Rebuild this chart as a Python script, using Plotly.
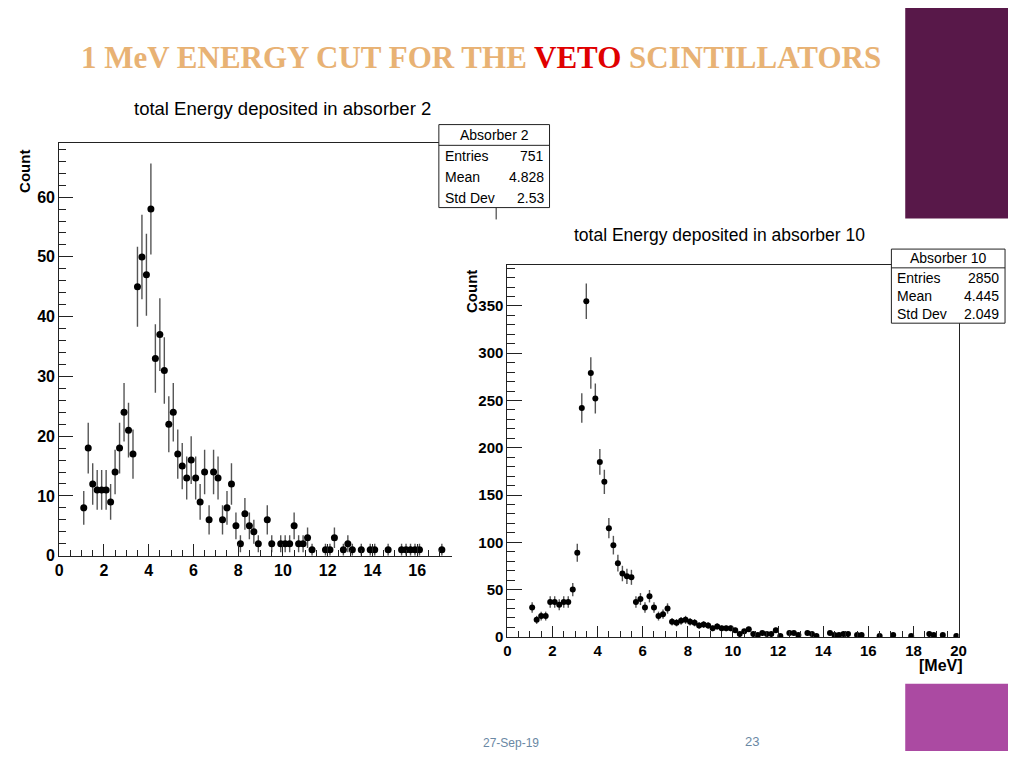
import numpy as np
import plotly.graph_objects as go

# the page keeps the browser's 8px body margin on every side
OFF = 8
W, H = 1024 - 2 * OFF, 768 - 2 * OFF

# absorber 2: bin centres [MeV] and counts
e2 = [1.1, 1.3, 1.5, 1.7, 1.9, 2.1, 2.3, 2.5, 2.7, 2.9, 3.1, 3.3, 3.5, 3.7, 3.9,
      4.1, 4.3, 4.5, 4.7, 4.9, 5.1, 5.3, 5.5, 5.7, 5.9, 6.1, 6.3, 6.5, 6.7, 6.9,
      7.1, 7.3, 7.5, 7.7, 7.9, 8.1, 8.3, 8.5, 8.7, 8.9, 9.3, 9.5, 9.9, 10.1, 10.3,
      10.5, 10.7, 10.9, 11.1, 11.3, 11.9, 12.1, 12.3, 12.7, 12.9, 13.1, 13.5, 13.9,
      14.1, 14.7, 15.3, 15.5, 15.7, 15.9, 16.1, 17.1]
n2 = [8, 18, 12, 11, 11, 11, 9, 14, 18, 24, 21, 17, 45, 50, 47,
      58, 33, 37, 31, 22, 24, 17, 15, 13, 16, 13, 9, 14, 6, 14,
      13, 6, 8, 12, 5, 2, 7, 5, 4, 2, 6, 2, 2, 2, 2,
      5, 2, 2, 3, 1, 1, 1, 3, 1, 2, 1, 1, 1,
      1, 1, 1, 1, 1, 1, 1, 1]

# absorber 10
e10 = [1.1, 1.3, 1.5, 1.7, 1.9, 2.1, 2.3, 2.5, 2.7, 2.9, 3.1, 3.3, 3.5, 3.7, 3.9,
       4.1, 4.3, 4.5, 4.7, 4.9, 5.1, 5.3, 5.5, 5.7, 5.9, 6.1, 6.3, 6.5, 6.7, 6.9,
       7.1, 7.3, 7.5, 7.7, 7.9, 8.1, 8.3, 8.5, 8.7, 8.9, 9.1, 9.3, 9.5, 9.7, 9.9,
       10.1, 10.3, 10.5, 10.7, 10.9, 11.1, 11.3, 11.5, 11.7, 11.9, 12.1, 12.5, 12.7,
       12.9, 13.3, 13.5, 13.7, 14.3, 14.5, 14.7, 14.9, 15.1, 15.5, 15.7, 16.5, 17.1,
       17.9, 18.7, 18.9, 19.3, 19.9]
n10 = [31, 18, 22, 22, 37, 37, 34, 37, 37, 50, 89, 242, 355, 279, 252,
       185, 164, 115, 97, 78, 67, 64, 63, 37, 40, 31, 43, 31, 22, 24,
       30, 16, 15, 17, 18, 16, 15, 12, 13, 12, 9, 11, 9, 9, 9,
       7, 3, 6, 8, 3, 2, 4, 3, 3, 7, 1, 4, 4,
       2, 4, 3, 1, 4, 2, 2, 3, 3, 2, 2, 1, 2,
       1, 3, 2, 2, 1]

stats2 = [("Entries", "751"), ("Mean", "4.828"), ("Std Dev", "2.53")]
stats10 = [("Entries", "2850"), ("Mean", "4.445"), ("Std Dev", "2.049")]

SANS = "Liberation Sans, Arial, sans-serif"
INK = "#222222"


def px(x):
    return (x - OFF) / W


def py(y):
    return 1 - (y - OFF) / H


def hist_trace(e, n, xa, ya, size):
    return go.Scatter(
        x=e, y=n, mode="markers", xaxis=xa, yaxis=ya,
        marker=dict(color="black", size=size),
        error_y=dict(type="data", array=np.sqrt(n), width=0,
                     thickness=1.4, color="#555555"),
        showlegend=False,
        hovertemplate="%{x:.1f} MeV<br>%{y}<extra></extra>",
    )


fig = go.Figure()
fig.add_trace(hist_trace(e2, n2, "x", "y", 7))
fig.add_trace(hist_trace(e10, n10, "x2", "y2", 6))


def axis(size, **kw):
    return dict(showline=True, linecolor=INK, linewidth=1, ticks="inside",
                tickcolor=INK, showgrid=False, zeroline=False,
                tickfont=dict(family=SANS, size=size, color="black", weight="bold"),
                **kw)


fig.update_layout(
    width=W, height=H, autosize=False,
    margin=dict(l=0, r=0, t=0, b=0),
    paper_bgcolor="white", plot_bgcolor="white",
    showlegend=False,
    xaxis=axis(16, domain=[px(55.7), px(453)], range=[0, 17.54],
               dtick=2, ticklen=12, mirror=True,
               minor=dict(dtick=0.5, ticklen=6, ticks="inside", tickcolor=INK),
               anchor="y"),
    yaxis=axis(16, domain=[py(562.3), py(145)], range=[0, 69],
               dtick=10, ticklen=14,
               minor=dict(dtick=2, ticklen=7, ticks="inside", tickcolor=INK),
               anchor="x"),
    xaxis2=axis(15, domain=[px(509.3), px(966)], range=[0, 20],
                dtick=2, ticklen=11, mirror=True,
                minor=dict(dtick=0.5, ticklen=6, ticks="inside", tickcolor=INK),
                anchor="y2"),
    yaxis2=axis(15, domain=[py(644.5), py(268)], range=[0, 393.4],
                dtick=50, ticklen=15, mirror=True,
                minor=dict(dtick=10, ticklen=8, ticks="inside", tickcolor=INK),
                anchor="x2"),
)

shapes = []
# slide decoration
shapes.append(dict(type="rect", xref="paper", yref="paper", x0=px(912), x1=1,
                   y0=py(221), y1=1, fillcolor="#581849", line_width=0, layer="below"))
shapes.append(dict(type="rect", xref="paper", yref="paper", x0=px(912), x1=1,
                   y0=0, y1=py(692), fillcolor="#ab4aa2", line_width=0, layer="below"))
# right frame edge of the (cropped) absorber 2 plot
shapes.append(dict(type="line", xref="paper", yref="paper", x0=px(498), x1=px(498),
                   y0=py(210), y1=py(222), line=dict(color=INK, width=1)))


def stat_box(x0, x1, y0, y1, ydiv, title, rows, row_y):
    shapes.append(dict(type="rect", xref="paper", yref="paper", x0=px(x0), x1=px(x1),
                       y0=py(y1), y1=py(y0), fillcolor="white",
                       line=dict(color=INK, width=1), layer="above"))
    shapes.append(dict(type="line", xref="paper", yref="paper", x0=px(x0), x1=px(x1),
                       y0=py(ydiv), y1=py(ydiv), line=dict(color=INK, width=1),
                       layer="above"))
    f = dict(family=SANS, size=14, color="black")
    ann = [dict(text=title, x=px((x0 + x1) / 2), y=py((y0 + ydiv) / 2),
                xanchor="center", yanchor="middle", font=f)]
    for (lab, val), yy in zip(rows, row_y):
        ann.append(dict(text=lab, x=px(x0 + 4), y=py(yy), xanchor="left",
                        yanchor="middle", font=f))
        ann.append(dict(text=val, x=px(x1 - 4), y=py(yy), xanchor="right",
                        yanchor="middle", font=f))
    return ann


annotations = []
annotations += stat_box(440, 552, 126, 210, 147, "Absorber 2", stats2, [158, 179, 200])
annotations += stat_box(898, 1013, 252, 327, 271, "Absorber 10", stats10, [281, 299, 318])

title_font = dict(family=SANS, size=18.5, color="black")
annotations += [
    dict(text="<b>1 MeV ENERGY CUT FOR THE <span style='color:#e00000'>VETO</span> SCINTILLATORS</b>",
         x=px(483), y=py(58), xanchor="center", yanchor="middle",
         font=dict(family="Liberation Serif, Times New Roman, serif", size=31, color="#e8b274")),
    dict(text="total Energy deposited in absorber 2", x=px(282), y=py(110),
         xanchor="center", yanchor="middle", font=title_font),
    dict(text="total Energy deposited in absorber 10", x=px(724), y=py(238),
         xanchor="center", yanchor="middle", font=dict(title_font, size=17.5)),
    dict(text="<b>Count</b>", x=px(20), y=py(173), textangle=-90,
         xanchor="center", yanchor="middle",
         font=dict(family=SANS, size=15, color="black")),
    dict(text="<b>Count</b>", x=px(473), y=py(295), textangle=-90,
         xanchor="center", yanchor="middle",
         font=dict(family=SANS, size=15, color="black")),
    dict(text="<b>[MeV]</b>", x=px(948), y=py(673), xanchor="center", yanchor="middle",
         font=dict(family=SANS, size=16, color="black")),
    dict(text="27-Sep-19", x=px(513), y=py(752), xanchor="center", yanchor="middle",
         font=dict(family=SANS, size=12, color="#6a88a4")),
    dict(text="23", x=px(757), y=py(750), xanchor="center", yanchor="middle",
         font=dict(family=SANS, size=13, color="#6a88a4")),
]
for a in annotations:
    a.setdefault("xref", "paper")
    a.setdefault("yref", "paper")
    a["showarrow"] = False

fig.update_layout(shapes=shapes, annotations=annotations)

fig.write_html("out.html", config={"displayModeBar": False})
